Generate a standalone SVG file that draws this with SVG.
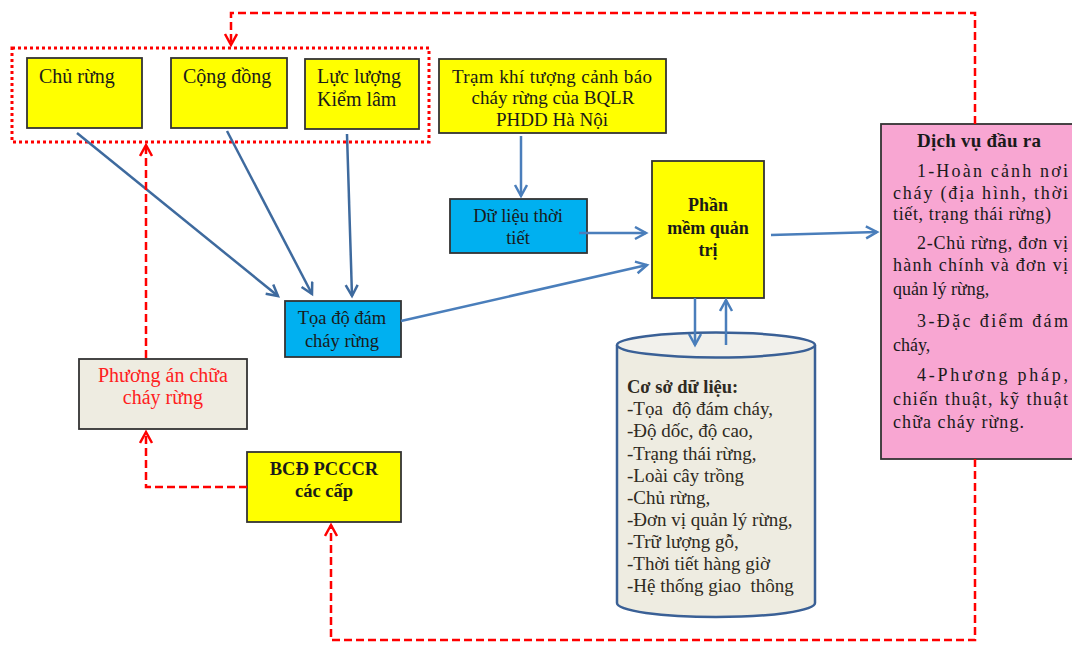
<svg xmlns="http://www.w3.org/2000/svg" width="1072" height="648" viewBox="0 0 1072 648">
<defs>
<style>
.t{font-family:"Liberation Serif","Times New Roman",serif;fill:#1a1a1a}
.b{font-weight:bold}
.box{stroke:#333;stroke-width:1.8}
.y{fill:#ffff00}
.cy{fill:#00b0f0}
.bl{stroke:#4a7ebb;stroke-width:2.5;fill:none}
.bd{stroke:#3e6a9e;stroke-width:2.5;fill:none}
.rd{stroke:#ff0000;stroke-width:2.5;fill:none;stroke-dasharray:8 4}
.pre{white-space:pre}
</style>
<marker id="ab" markerUnits="userSpaceOnUse" markerWidth="16" markerHeight="16" refX="12" refY="7" orient="auto">
<path d="M1,1 L12,7 L1,13" fill="none" stroke="#4a7ebb" stroke-width="2.5"/>
</marker>
<marker id="abd" markerUnits="userSpaceOnUse" markerWidth="16" markerHeight="16" refX="12" refY="7" orient="auto">
<path d="M1,1 L12,7 L1,13" fill="none" stroke="#3e6a9e" stroke-width="2.5"/>
</marker>
<marker id="ar" markerUnits="userSpaceOnUse" markerWidth="16" markerHeight="16" refX="12" refY="7" orient="auto">
<path d="M1,1 L12,7 L1,13" fill="none" stroke="#ff0000" stroke-width="2.5"/>
</marker>
</defs>
<rect width="1072" height="648" fill="#ffffff"/>

<g id="group-frame">
<rect x="12" y="48" width="417" height="94" fill="none" stroke="#ff0000" stroke-width="3" stroke-dasharray="3 3"/>
</g>

<g id="node-churung">
<rect class="box y" x="27" y="58" width="115" height="70"/>
<text class="t" x="39" y="83" font-size="20">Chủ rừng</text>
</g>
<g id="node-congdong">
<rect class="box y" x="171" y="58" width="116" height="70"/>
<text class="t" x="183" y="83" font-size="20">Cộng đồng</text>
</g>
<g id="node-kiemlam">
<rect class="box y" x="305" y="59" width="114" height="70"/>
<text class="t" x="317" y="83" font-size="20">Lực lượng</text>
<text class="t" x="317" y="106" font-size="20">Kiểm lâm</text>
</g>
<g id="node-tram">
<rect class="box y" x="439" y="59" width="227" height="74"/>
<text class="t" x="452" y="83" font-size="19" textLength="200" lengthAdjust="spacing">Trạm khí tượng cảnh báo</text>
<text class="t" x="553" y="104" font-size="19" text-anchor="middle">cháy rừng của BQLR</text>
<text class="t" x="552" y="126" font-size="19" text-anchor="middle">PHDD Hà Nội</text>
</g>
<g id="node-dulieu">
<rect class="box cy" x="450" y="199" width="137" height="54"/>
<text class="t" x="518" y="222" font-size="18.5" text-anchor="middle">Dữ liệu thời</text>
<text class="t" x="518" y="244" font-size="18.5" text-anchor="middle">tiết</text>
</g>
<g id="node-phanmem">
<rect class="box y" x="652" y="161" width="112" height="137"/>
<text class="t b" x="708" y="211" font-size="18" text-anchor="middle">Phần</text>
<text class="t b" x="708" y="234" font-size="18" text-anchor="middle">mềm quản</text>
<text class="t b" x="708" y="256" font-size="18" text-anchor="middle">trị</text>
</g>
<g id="node-toado">
<rect class="box cy" x="285" y="301" width="116" height="56"/>
<text class="t" x="342" y="324" font-size="18.5" text-anchor="middle">Tọa độ đám</text>
<text class="t" x="342" y="347" font-size="18.5" text-anchor="middle">cháy rừng</text>
</g>
<g id="node-phuongan">
<rect class="box" x="79" y="359" width="168" height="70" fill="#eeece1"/>
<text class="t" x="163" y="382" font-size="20" text-anchor="middle" style="fill:#ff2020">Phương án chữa</text>
<text class="t" x="163" y="404" font-size="20" text-anchor="middle" style="fill:#ff2020">cháy rừng</text>
</g>
<g id="node-bcd">
<rect class="box y" x="247" y="452" width="154" height="70"/>
<text class="t b" x="324" y="475" font-size="18.5" text-anchor="middle">BCĐ PCCCR</text>
<text class="t b" x="324" y="497" font-size="18.5" text-anchor="middle">các cấp</text>
</g>
<g id="node-csdl">
<path d="M617,345 V603 A99,14 0 0 0 815,603 V345" fill="#eeece1" stroke="#3a6096" stroke-width="2.5"/>
<ellipse cx="716" cy="345" rx="99" ry="12.5" fill="#f2f1ec" stroke="#3a6096" stroke-width="2.5"/>
<g class="t" font-size="19" style="fill:#2e2a22">
<text class="b" x="627" y="393" font-size="18.5">Cơ sở dữ liệu:</text>
<text class="pre" x="627" y="415">-Tọa  độ đám cháy,</text>
<text x="627" y="437">-Độ dốc, độ cao,</text>
<text x="627" y="460">-Trạng thái rừng,</text>
<text x="627" y="482">-Loài cây trồng</text>
<text x="627" y="504">-Chủ rừng,</text>
<text x="627" y="526">-Đơn vị quản lý rừng,</text>
<text x="627" y="548">-Trữ lượng gỗ,</text>
<text x="627" y="570">-Thời tiết hàng giờ</text>
<text class="pre" x="627" y="592">-Hệ thống giao  thông</text>
</g>
</g>
<g id="node-dichvu">
<rect class="box" x="881" y="124" width="200" height="335" fill="#f8a6d2"/>
<g class="t" font-size="18">
<text class="b" x="917" y="147" font-size="19" textLength="124" lengthAdjust="spacing">Dịch vụ đầu ra</text>
<text x="917" y="177" textLength="151" lengthAdjust="spacing">1-Hoàn cảnh nơi</text>
<text x="893" y="199" textLength="175" lengthAdjust="spacing">cháy (địa hình, thời</text>
<text x="893" y="220" textLength="158" lengthAdjust="spacing">tiết, trạng thái rừng)</text>
<text x="917" y="249" textLength="151" lengthAdjust="spacing">2-Chủ rừng, đơn vị</text>
<text x="893" y="271" textLength="175" lengthAdjust="spacing">hành chính và đơn vị</text>
<text x="893" y="295">quản lý rừng,</text>
<text x="917" y="327" textLength="151" lengthAdjust="spacing">3-Đặc điểm đám</text>
<text x="893" y="351">cháy,</text>
<text x="917" y="381" textLength="151" lengthAdjust="spacing">4-Phương pháp,</text>
<text x="893" y="405" textLength="175" lengthAdjust="spacing">chiến thuật, kỹ thuật</text>
<text x="893" y="428" textLength="131" lengthAdjust="spacing">chữa cháy rừng.</text>
</g>
</g>

<g id="connectors">
<line class="bd" x1="77" y1="133" x2="278" y2="296" marker-end="url(#abd)"/>
<line class="bd" x1="227" y1="131" x2="312" y2="294" marker-end="url(#abd)"/>
<line class="bd" x1="347" y1="134" x2="352" y2="296" marker-end="url(#abd)"/>
<line class="bl" x1="521" y1="136" x2="521" y2="196" marker-end="url(#ab)"/>
<line class="bl" x1="579" y1="233" x2="646" y2="233" marker-end="url(#ab)"/>
<line class="bl" x1="401" y1="321" x2="647" y2="265" marker-end="url(#ab)"/>
<line class="bl" x1="771" y1="235" x2="877" y2="232" marker-end="url(#ab)"/>
<line class="bl" x1="695" y1="298" x2="695" y2="345" marker-end="url(#ab)"/>
<line class="bl" x1="726" y1="345" x2="726" y2="300" marker-end="url(#ab)"/>
<path class="rd" d="M975,124 V13 H231 V45" marker-end="url(#ar)"/>
<path class="rd" d="M975,459 V640 H331 V525" marker-end="url(#ar)"/>
<path class="rd" d="M247,487 H146 V432" marker-end="url(#ar)"/>
<path class="rd" d="M146,358 V145" marker-end="url(#ar)"/>
</g>
</svg>
